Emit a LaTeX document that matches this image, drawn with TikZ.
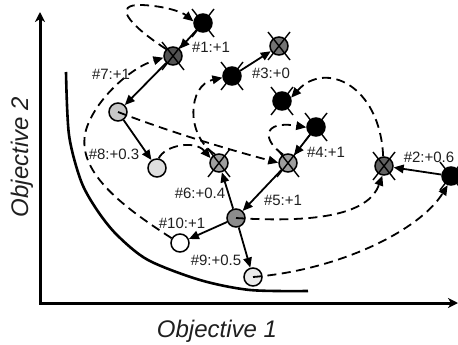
\documentclass[tikz,border=0pt]{standalone}
\usepackage{fontspec}
\setmainfont{Liberation Sans}
\usetikzlibrary{arrows.meta}
\newcommand\xmk[1]{%
  \draw[xl] ([shift={(-11,-14)}]#1.center) -- ([shift={(11,14)}]#1.center);
  \draw[xl] ([shift={(11,-14)}]#1.center) -- ([shift={(-11,14)}]#1.center);}
\begin{document}
\begin{tikzpicture}[x=1pt,y=-1pt,
  nd/.style={circle,draw=black,line width=1.5pt,minimum size=18pt,inner sep=0pt},
  xl/.style={line width=1.4pt},
  lab/.style={font=\fontsize{15}{15}\selectfont,inner sep=0pt,text=black!88},
  axlab/.style={font=\fontsize{24}{24}\selectfont\itshape,inner sep=0pt,text=black!88},
  arr/.style={line width=1.8pt,-{Triangle[length=10pt,width=8.5pt]}},
  darr/.style={arr,dash pattern=on 9pt off 5.5pt},
  axis/.style={line width=3pt,{Stealth[length=10pt,width=10pt,inset=3pt]}-{Stealth[length=10pt,width=10pt,inset=3pt]}},
]
\useasboundingbox (0,0) rectangle (458,345);
% axes
\coordinate (ytop) at (40,12);
\coordinate (orig) at (40,303);
\coordinate (xend) at (458,303);
\draw[axis] (ytop) -- (orig) -- (xend);
\node[axlab,anchor=base] (xl1) at (217,337) {Objective 1};
\node[axlab,anchor=base,rotate=90] (yl1) at (28,157) {Objective 2};
% pareto front
\draw[line width=2.6pt] plot[smooth] coordinates {(66,72) (69,135) (81,181) (97,210) (117,235) (148,260) (200,280) (250,290) (308,291)};
% nodes
\node[nd,fill=black] (B1) at (203,23) {};
\node[nd,fill=black!68] (N7) at (173,56) {};
\node[nd,fill=black] (B3) at (232,76) {};
\node[nd,fill=black!55] (N3) at (279,46) {};
\node[nd,fill=black] (B4a) at (282,101) {};
\node[nd,fill=black] (B4b) at (316,127) {};
\node[nd,fill=black!38] (N4) at (288,163) {};
\node[nd,fill=black!38] (N6) at (219,163) {};
\node[nd,fill=black!22] (L1) at (118,112) {};
\node[nd,fill=black!13] (L8) at (157,168) {};
\node[nd,fill=black!45] (N5) at (236,218) {};
\node[nd,fill=white] (W10) at (180,243) {};
\node[nd,fill=black!8] (L9) at (253,277) {};
\node[nd,fill=black!62] (N2) at (384,166) {};
\node[nd,fill=black] (BR) at (451,176) {};
\xmk{B1}\xmk{N7}\xmk{B3}\xmk{N3}\xmk{B4a}\xmk{B4b}\xmk{N4}\xmk{N6}\xmk{N2}\xmk{BR}
% solid arrows
\draw[arr] (B1) -- (N7);
\draw[arr] (N7) -- (L1);
\draw[arr] (L1) -- (L8);
\draw[arr] (B3) -- (N3);
\draw[arr] (B4b) -- (N4);
\draw[arr] (N4) -- (N5);
\draw[arr] (N5) -- (N6);
\draw[arr] (N5) -- (W10);
\draw[arr] (N5) -- (L9);
\draw[arr] (BR) -- (N2);
% dashed arrows
\draw[darr] (N7.135) .. controls (128,24) and (112,4) .. (142,5) .. controls (165,6) and (182,12) .. (B1.170);
\draw[darr] (W10.150) .. controls (120,205) and (75,170) .. (86,130) .. controls (95,100) and (130,68) .. (N7.190);
\draw[darr] (L1.center) .. controls (170,132) and (230,150) .. (N4.178);
\draw[darr] (L8.80) .. controls (165,145) and (195,140) .. (N6.150);
\draw[darr] (N6.115) .. controls (185,135) and (188,85) .. (B3.190);
\draw[darr] (N2.95) .. controls (380,85) and (325,60) .. (B4a.20);
\draw[darr] (N4.120) .. controls (262,140) and (262,120) .. (B4b.182);
\draw[darr] (N5.center) .. controls (330,224) and (370,210) .. (N2.260);
\draw[darr] (L9.center) .. controls (340,270) and (420,230) .. (BR.250);
% labels
\node[lab] (t1) at (211,47) {\#1:+1};
\node[lab] (t7) at (111,74) {\#7:+1};
\node[lab] (t3) at (271,73) {\#3:+0};
\node[lab] (t4) at (326,152) {\#4:+1};
\node[lab] (t2) at (429,157) {\#2:+0.6};
\node[lab] (t8) at (114,154) {\#8:+0.3};
\node[lab] (t6) at (200,193) {\#6:+0.4};
\node[lab] (t5) at (283,200) {\#5:+1};
\node[lab] (t10) at (182,223) {\#10:+1};
\node[lab] (t9) at (216,260) {\#9:+0.5};
\end{tikzpicture}
\end{document}
